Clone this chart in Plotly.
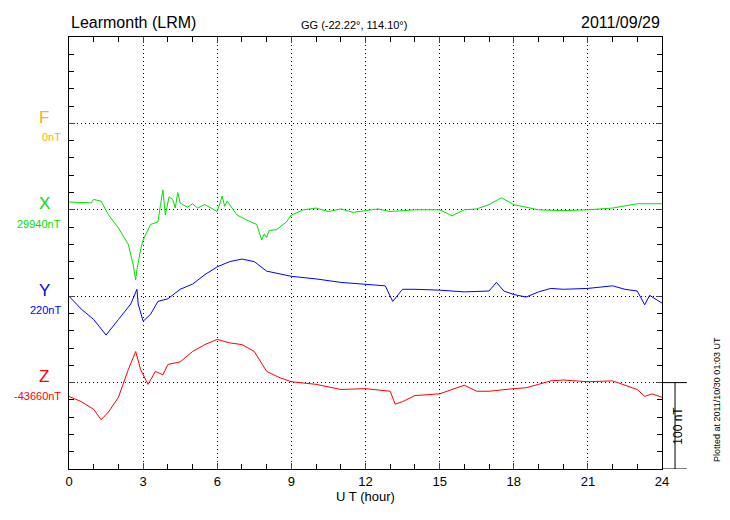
import plotly.graph_objects as go

# hours and offsets (nT) from each component's baseline
x_t = [0, 0.9, 1.0, 1.3, 1.6, 2.0, 2.4, 2.6, 2.7, 2.75, 2.9, 3.0, 3.3, 3.6, 3.7, 3.8, 3.9, 4.05, 4.2, 4.3,
       4.4, 4.5, 4.6, 4.8, 5.0, 5.2, 5.5, 5.8, 6.0, 6.2, 6.3, 6.4, 6.6, 6.8, 7.2, 7.6, 7.8, 7.9, 8.0, 8.1,
       8.4, 8.8, 9.0, 9.5, 10, 10.5, 11, 11.5, 12, 12.5, 13, 14, 15, 15.5, 16, 16.5, 17, 17.5, 18, 19, 20,
       21, 22, 23, 24]
x_off = [9, 8, 12, 10, -6, -21, -40, -64, -81, -69, -46, -35, -17, -14, 5, 23, -6, 15, 12, 2,
         20, 8, 6, 3, 7, 2, 6, 1, -2, 16, 4, 10, 2, -6, -12, -17, -35, -28, -32, -24,
         -23, -14, -6, 0, 2, -2, 1, -3, -1, 1, -2, 0, 0, -7, 0, 1, 6, 14, 6, 0, -1,
         0, 2, 7, 7]

y_t = [0, 0.5, 1, 1.5, 2, 2.5, 2.75, 2.8, 3, 3.3, 3.6, 4, 4.5, 5, 5.5, 6, 6.5, 7, 7.5, 8, 9, 10, 11,
       12, 12.8, 13.1, 13.5, 14, 15, 16, 17, 17.3, 17.6, 18, 18.5, 19, 19.5, 20, 21, 22, 22.5, 23, 23.3,
       23.5, 24]
y_off = [0, -15, -27, -45, -27, -9, 8, -9, -29, -21, -6, -3, 8, 14, 25, 34, 40, 43, 40, 29, 23, 20, 16,
         14, 12, -6, 8, 8, 7, 5, 6, 16, 6, 2, -1, 5, 9, 8, 9, 12, 8, 6, -10,
         1, -8]

z_t = [0, 0.5, 1.0, 1.3, 1.6, 2.0, 2.4, 2.7, 2.9, 3.2, 3.5, 3.8, 4, 4.5, 5, 5.5, 6, 6.5, 7, 7.5, 8, 8.5,
       9, 10, 11, 12, 13, 13.2, 13.5, 14, 15, 16, 16.5, 17, 18, 18.5, 19, 19.5, 20, 21, 22, 22.5, 23, 23.3,
       23.6, 24]
z_off = [-16, -22, -31, -43, -34, -17, 15, 36, 15, -2, 13, 9, 21, 24, 36, 44, 50, 46, 44, 36, 13, 6,
         1, -2, -8, -7, -10, -25, -22, -15, -13, -3, -10, -10, -7, -6, -2, 2, 3, 1, 2, -3, -8, -16,
         -13, -17]

# plot position of each baseline (nT above bottom of the panel)
levels = {"F": 400, "X": 300, "Y": 200, "Z": 100}
baselines = {"F": "0nT", "X": "29940nT", "Y": "220nT", "Z": "-43660nT"}
colors = {"F": "#FFB000", "X": "#00E000", "Y": "#0000FF", "Z": "#FF0000"}

FONT = "Liberation Sans, Arial, sans-serif"
DOT = "1px,3px"

fig = go.Figure()
for key, t, off in [("X", x_t, x_off), ("Y", y_t, y_off), ("Z", z_t, z_off)]:
    fig.add_trace(go.Scatter(x=t, y=[levels[key] + v for v in off], mode="lines",
                             line=dict(color=colors[key], width=1), showlegend=False))

for key, lvl in levels.items():
    fig.add_annotation(x=-0.042, y=lvl + 7, xref="paper", yref="y", text=key, showarrow=False,
                       xanchor="center", yanchor="middle", font=dict(size=17, color=colors[key], family=FONT))
    fig.add_annotation(x=-0.01, y=lvl - 16, xref="paper", yref="y", text=baselines[key], showarrow=False,
                       xanchor="right", yanchor="middle", font=dict(size=11, color=colors[key], family=FONT))

# 100 nT scale bar
fig.add_shape(type="line", xref="paper", yref="y", x0=1, x1=1.042, y0=100, y1=100, line=dict(color="black", width=1))
fig.add_shape(type="line", xref="paper", yref="y", x0=1, x1=1.042, y0=0, y1=0, line=dict(color="black", width=1))
fig.add_shape(type="line", xref="paper", yref="y", x0=1.022, x1=1.022, y0=0, y1=100, line=dict(color="black", width=1))
fig.add_annotation(x=1.042, y=50, xref="paper", yref="y", text="100 nT", textangle=-90, showarrow=False,
                   font=dict(size=12, color="black", family=FONT))
fig.add_annotation(x=1.093, y=80, xref="paper", yref="y", text="Plotted at 2011/10/30 01:03 UT", textangle=-90,
                   showarrow=False, xanchor="center", yanchor="middle", font=dict(size=9, color="black", family=FONT))

fig.add_annotation(x=0, y=1.01, xref="paper", yref="paper", text="Learmonth (LRM)", showarrow=False,
                   xanchor="left", yanchor="bottom", font=dict(size=16, color="black", family=FONT))
fig.add_annotation(x=0.48, y=1.01, xref="paper", yref="paper", text="GG (-22.22°, 114.10°)", showarrow=False,
                   xanchor="center", yanchor="bottom", font=dict(size=11, color="black", family=FONT))
fig.add_annotation(x=1, y=1.01, xref="paper", yref="paper", text="2011/09/29", showarrow=False,
                   xanchor="right", yanchor="bottom", font=dict(size=16, color="black", family=FONT))

fig.update_layout(
    width=714, height=504,
    margin=dict(l=61, r=60, t=29, b=43),
    plot_bgcolor="white", paper_bgcolor="white",
    font=dict(family=FONT, size=13, color="black"),
    xaxis=dict(range=[0, 24], tickvals=list(range(0, 25, 3)), ticks="inside", ticklen=6,
               showline=True, linecolor="black", mirror="ticks", showgrid=True, gridcolor="black",
               griddash=DOT, gridwidth=1, zeroline=False,
               minor=dict(dtick=1, ticks="inside", ticklen=5, tickcolor="black", showgrid=False),
               title=dict(text="U T (hour)", standoff=2, font=dict(size=13))),
    yaxis=dict(range=[0, 500], tickvals=[100, 200, 300, 400], showticklabels=False, ticks="inside", ticklen=6,
               showline=True, linecolor="black", mirror="ticks", showgrid=True, gridcolor="black",
               griddash=DOT, gridwidth=1, zeroline=False,
               minor=dict(dtick=20, ticks="inside", ticklen=5, tickcolor="black", showgrid=False)),
)

fig.write_html("out.html")
